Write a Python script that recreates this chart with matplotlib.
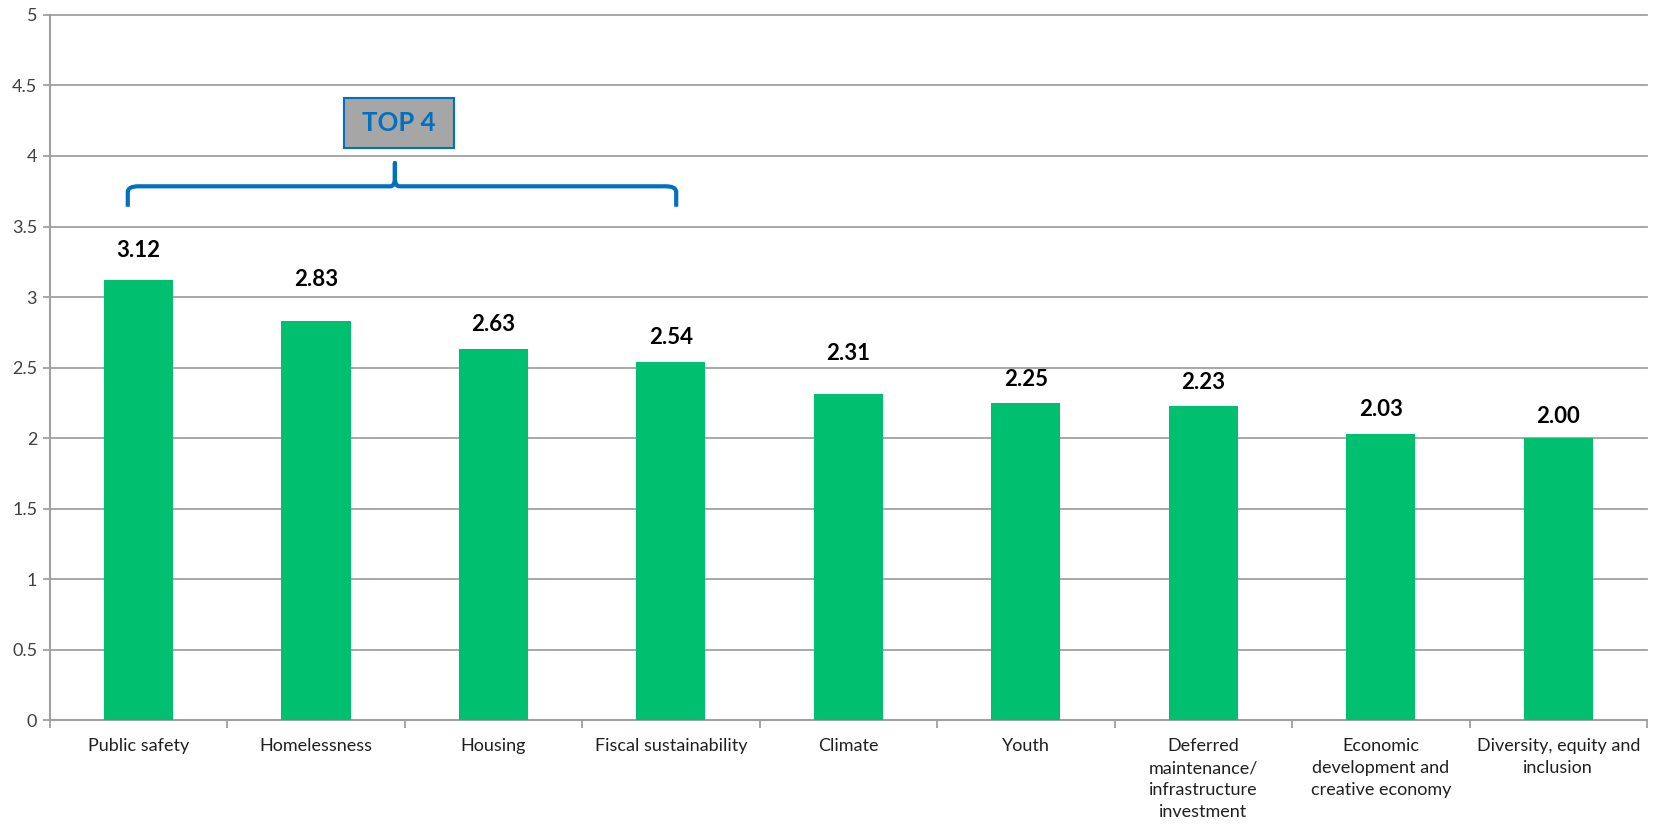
import matplotlib
matplotlib.use("Agg")
import matplotlib.pyplot as plt
from matplotlib.patches import Rectangle, PathPatch
from matplotlib.path import Path

categories = ["Public safety", "Homelessness", "Housing", "Fiscal sustainability", "Climate",
              "Youth", "Deferred\nmaintenance/\ninfrastructure\ninvestment",
              "Economic\ndevelopment and\ncreative economy", "Diversity, equity and\ninclusion"]
values = [3.12, 2.83, 2.63, 2.54, 2.31, 2.25, 2.23, 2.03, 2.00]
label_offsets_pt = [14, 22, 10, 10, 22, 9, 9, 10, 8]
yticks = [0, 0.5, 1, 1.5, 2, 2.5, 3, 3.5, 4, 4.5, 5]
ytick_labels = ["0", "0.5", "1", "1.5", "2", "2.5", "3", "3.5", "4", "4.5", "5"]

plt.rcParams['font.family'] = ['Lato', 'DejaVu Sans']

fig = plt.figure(figsize=(16.56, 8.27), dpi=100)
ax = fig.add_axes([0.030, 0.129, 0.9646, 0.853])

x = list(range(len(categories)))
ax.bar(x, values, width=0.39, color="#00BF6F", zorder=3)
ax.set_xlim(-0.5, len(categories) - 0.5)
ax.set_ylim(0, 5)

for xi, v, off in zip(x, values, label_offsets_pt):
    ax.annotate(f"{v:.2f}", (xi, v), xytext=(0, off), textcoords="offset points",
                ha="center", va="bottom", fontsize=16, fontweight="bold", color="black")

grid_c = "#A0A0A0"
ax.set_yticks(yticks)
ax.set_yticklabels(ytick_labels, fontsize=13, color="#404040")
ax.yaxis.grid(True, color=grid_c, linewidth=1.3, zorder=0)
for gl in ax.get_ygridlines():
    gl.set_clip_on(False)
ax.set_xticks(x)
ax.set_xticklabels(categories, fontsize=13, color="#202020", linespacing=1.45, va="top")
ax.set_xticks([i + 0.5 for i in range(-1, len(categories))], minor=True)
ax.tick_params(axis="x", which="major", length=0, pad=13)
ax.tick_params(axis="x", which="minor", length=6, color=grid_c, width=1.3)
ax.tick_params(axis="y", length=5, color=grid_c, width=1.3, pad=4)
for s in ["top", "right"]:
    ax.spines[s].set_visible(False)
for s in ["left", "bottom"]:
    ax.spines[s].set_color(grid_c)
    ax.spines[s].set_linewidth(1.5)

# brace
blue = "#0070C0"
xl, xr, xm = -0.06, 3.03, 1.445
yb, yh, yp = 3.64, 3.785, 3.95
r = 0.06
rp = 0.025
verts = [(xl, yb), (xl, yh - 0.04), (xl, yh), (xl + r, yh),
         (xm - rp, yh), (xm, yh), (xm, yh + 0.06), (xm, yp),
         (xm, yh + 0.06), (xm, yh), (xm + rp, yh),
         (xr - r, yh), (xr, yh), (xr, yh - 0.04), (xr, yb)]
codes = [Path.MOVETO, Path.LINETO, Path.CURVE3, Path.CURVE3,
         Path.LINETO, Path.CURVE3, Path.CURVE3, Path.LINETO,
         Path.LINETO, Path.CURVE3, Path.CURVE3,
         Path.LINETO, Path.CURVE3, Path.CURVE3, Path.LINETO]
ax.add_patch(PathPatch(Path(verts, codes), fill=False, edgecolor=blue, linewidth=3, zorder=5,
                       capstyle="butt", joinstyle="round"))

# TOP 4 box
ax.add_patch(Rectangle((1.157, 4.06), 0.62, 0.35, facecolor="#A6A6A6", edgecolor=blue,
                       linewidth=1.5, zorder=5))
ax.text(1.467, 4.235, "TOP 4", ha="center", va="center", fontsize=18.5, fontweight="bold",
        color=blue, zorder=6)

fig.savefig("out.png", dpi=100)
